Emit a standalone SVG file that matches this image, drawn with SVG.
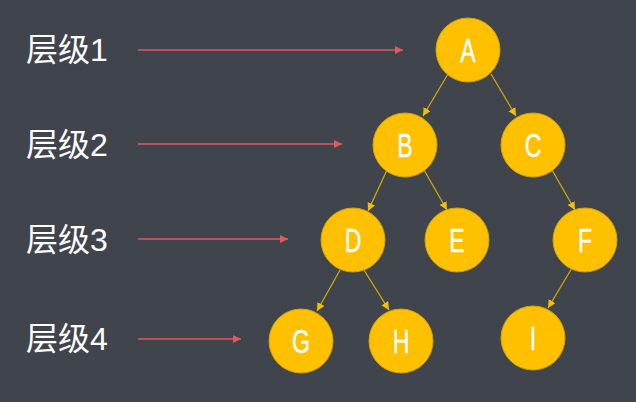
<svg xmlns="http://www.w3.org/2000/svg" width="636" height="402" viewBox="0 0 636 402">
<defs>
<style>
.bg{fill:#40444c}
.lvl{font-family:"Liberation Sans","Noto Sans CJK SC",sans-serif;font-size:32px;fill:#ffffff}
.node circle{fill:#ffc000;stroke:#d6a300;stroke-width:1}
.node text{font-family:"Liberation Sans",sans-serif;font-size:34px;fill:#ffffff;text-anchor:middle;stroke:#ffffff;stroke-width:0.4}
.red{stroke:#e05a5e;stroke-width:1.5;fill:none;marker-end:url(#ra)}
.yel{stroke:#d9ad00;stroke-width:1.2;fill:none;marker-end:url(#ya)}
</style>
<marker id="ra" markerUnits="userSpaceOnUse" markerWidth="9" markerHeight="8" refX="8" refY="4" orient="auto"><path d="M0,0 L8,4 L0,8 z" fill="#e05a5e"/></marker>
<marker id="ya" markerUnits="userSpaceOnUse" markerWidth="9" markerHeight="9" refX="8" refY="4" orient="auto"><path d="M0,0 L8,4 L0,8 z" fill="#f2c000"/></marker>
</defs>
<rect class="bg" x="0" y="0" width="636" height="402"/>
<g id="labels">
<text class="lvl" x="26" y="61">层级1</text>
<text class="lvl" x="26" y="156">层级2</text>
<text class="lvl" x="26" y="251">层级3</text>
<text class="lvl" x="26" y="350">层级4</text>
</g>
<g id="connectors">
<line class="red" x1="138" y1="50" x2="403" y2="50"/>
<line class="red" x1="138" y1="144" x2="342" y2="144"/>
<line class="red" x1="138" y1="239" x2="288" y2="239"/>
<line class="red" x1="138" y1="339" x2="241" y2="339"/>
<line class="yel" x1="448" y1="74" x2="423" y2="116"/>
<line class="yel" x1="491" y1="74" x2="516" y2="116"/>
<line class="yel" x1="387" y1="170" x2="368" y2="211"/>
<line class="yel" x1="424" y1="170" x2="447" y2="210"/>
<line class="yel" x1="552" y1="170" x2="575" y2="210"/>
<line class="yel" x1="340" y1="270" x2="317" y2="311"/>
<line class="yel" x1="364" y1="270" x2="389" y2="310"/>
<line class="yel" x1="572" y1="268" x2="548" y2="308"/>
</g>
<g id="A" class="node"><circle cx="468" cy="50" r="32"/><text transform="translate(468 62) scale(0.68 1)">A</text></g>
<g id="B" class="node"><circle cx="405" cy="145" r="32"/><text transform="translate(405 157) scale(0.68 1)">B</text></g>
<g id="C" class="node"><circle cx="533" cy="145" r="32"/><text transform="translate(533 157) scale(0.68 1)">C</text></g>
<g id="D" class="node"><circle cx="353" cy="240" r="32"/><text transform="translate(353 252) scale(0.68 1)">D</text></g>
<g id="E" class="node"><circle cx="457" cy="240" r="32"/><text transform="translate(457 252) scale(0.68 1)">E</text></g>
<g id="F" class="node"><circle cx="585" cy="240" r="32"/><text transform="translate(585 252) scale(0.68 1)">F</text></g>
<g id="G" class="node"><circle cx="301" cy="341" r="32"/><text transform="translate(301 353) scale(0.68 1)">G</text></g>
<g id="H" class="node"><circle cx="401" cy="341" r="32"/><text transform="translate(401 353) scale(0.68 1)">H</text></g>
<g id="I" class="node"><circle cx="533" cy="338" r="32"/><text transform="translate(533 350) scale(0.68 1)">I</text></g>
</svg>
